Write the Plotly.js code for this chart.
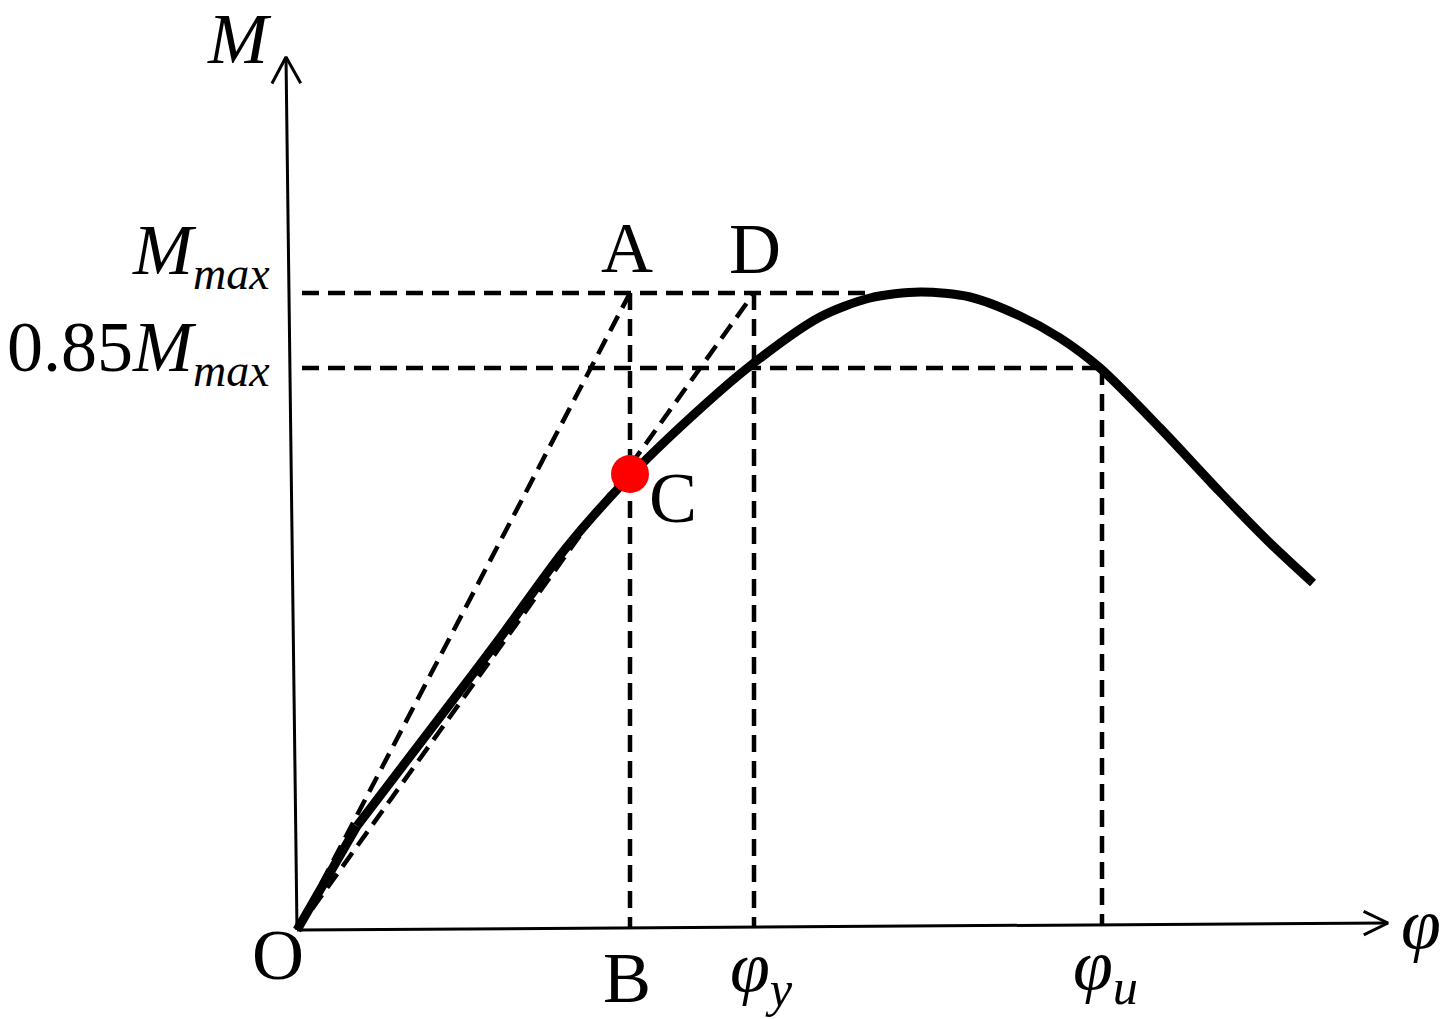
<!DOCTYPE html>
<html><head><meta charset="utf-8">
<script src="https://cdn.plot.ly/plotly-3.0.1.min.js"></script>
<style>html,body{margin:0;padding:0;background:#fff}#chart{width:1449px;height:1019px}</style>
</head><body><div id="chart"></div>
<script>
// Moment–curvature curve (schematic units, origin at O)
const curvePhi = [0, 60, 153, 203, 269, 333, 393, 453, 523, 573, 623, 673, 723, 763, 803, 863, 923, 973, 1016];
const curveM   = [0, 104, 226, 292, 382, 454, 512, 564, 613, 632, 638, 633, 614, 592, 562, 502, 438, 387, 347];
const Mmax = 637;        // peak moment level
const M085 = 562;        // 0.85 Mmax level
const phiB = 333;        // curvature of A / B / C
const Mc = 456;          // moment at C
const phiY = 457;        // yield curvature (D)
const phiU = 805;        // ultimate curvature
const phiMmaxEnd = 570;  // where Mmax dashed line meets the curve
const axisXEnd = [1091, 7];
const axisYEnd = [-11, 873];

const FONT = "Liberation Serif";
const axisAt = phi => phi * axisXEnd[1] / axisXEnd[0];

function head(tip, dir, len, ang) {
  const a = Math.atan2(dir[1], dir[0]);
  const p1 = [tip[0] - len * Math.cos(a - ang), tip[1] - len * Math.sin(a - ang)];
  const p2 = [tip[0] - len * Math.cos(a + ang), tip[1] - len * Math.sin(a + ang)];
  return {x: [p1[0], tip[0], p2[0]], y: [p1[1], tip[1], p2[1]]};
}

const solid = w => ({color: '#000', width: w});
const dashed = {color: '#000', width: 4.5, dash: '17px,9px'};
const traces = [];
const add = (x, y, line, extra) => traces.push(Object.assign({type: 'scatter', mode: 'lines', x, y, line, hoverinfo: 'skip'}, extra || {}));

// axes
add([0, axisXEnd[0]], [0, axisXEnd[1]], solid(3));
add([0, axisYEnd[0]], [0, axisYEnd[1]], solid(3));
const hx = head(axisXEnd, axisXEnd, 27, 0.45);
add(hx.x, hx.y, solid(3));
const hy = head(axisYEnd, axisYEnd, 30, 0.5);
add(hy.x, hy.y, solid(3));

// dashed construction lines
add([5, phiMmaxEnd], [Mmax, Mmax], dashed);
add([5, phiU], [M085, M085], dashed);
add([phiB, phiB], [Mmax, axisAt(phiB)], dashed);
add([phiY, phiY], [Mmax, axisAt(phiY)], dashed);
add([phiU, phiU], [M085, axisAt(phiU)], dashed);
add([0, phiB], [0, Mmax], dashed);
add([0, phiY], [0, Mmax], dashed);

// curve: initial straight segment then smooth
add(curvePhi.slice(0, 2), curveM.slice(0, 2), {color: '#000', width: 9});
add(curvePhi.slice(1), curveM.slice(1), {color: '#000', width: 9, shape: 'spline', smoothing: 0.8});

// point C
traces.push({type: 'scatter', mode: 'markers', x: [phiB], y: [Mc], marker: {color: '#ff0000', size: 38}, hoverinfo: 'skip'});

const ann = (x, y, text, extra) => Object.assign({x, y, xref: 'x', yref: 'y', text, showarrow: false,
  xanchor: 'center', yanchor: 'middle', font: {family: FONT, size: 72, color: '#000'}}, extra || {});

const SUBMAX = '<sub><span style="font-size:46px"><i>max</i></span></sub>';
const annotations = [
  ann(-58, 891, '<i>M</i>'),
  ann(-25, 676, '<i>M</i>' + SUBMAX, {xanchor: 'right'}),
  ann(-25, 579, '0.85<i>M</i>' + SUBMAX, {xanchor: 'right'}),
  ann(phiB - 3, 682, 'A'),
  ann(phiY + 1, 681, 'D'),
  ann(376, 432, 'C'),
  ann(-19, -25, 'O'),
  ann(phiB - 3, -48, 'B'),
  ann(phiY + 7, -42, '<i>φ</i><sub><i>y</i></sub>'),
  ann(phiU + 3, -40, '<i>φ</i><sub><i>u</i></sub>'),
  ann(1124, 6, '<i>φ</i>')
];

const layout = {
  width: 1449, height: 1019,
  margin: {l: 0, r: 0, t: 0, b: 0},
  paper_bgcolor: '#fff', plot_bgcolor: '#fff',
  showlegend: false,
  font: {family: FONT},
  xaxis: {range: [-297, 1152], visible: false, fixedrange: true},
  yaxis: {range: [-89, 930], visible: false, fixedrange: true},
  annotations
};
Plotly.newPlot('chart', traces, layout, {staticPlot: true, displayModeBar: false});
</script>
</body></html>
